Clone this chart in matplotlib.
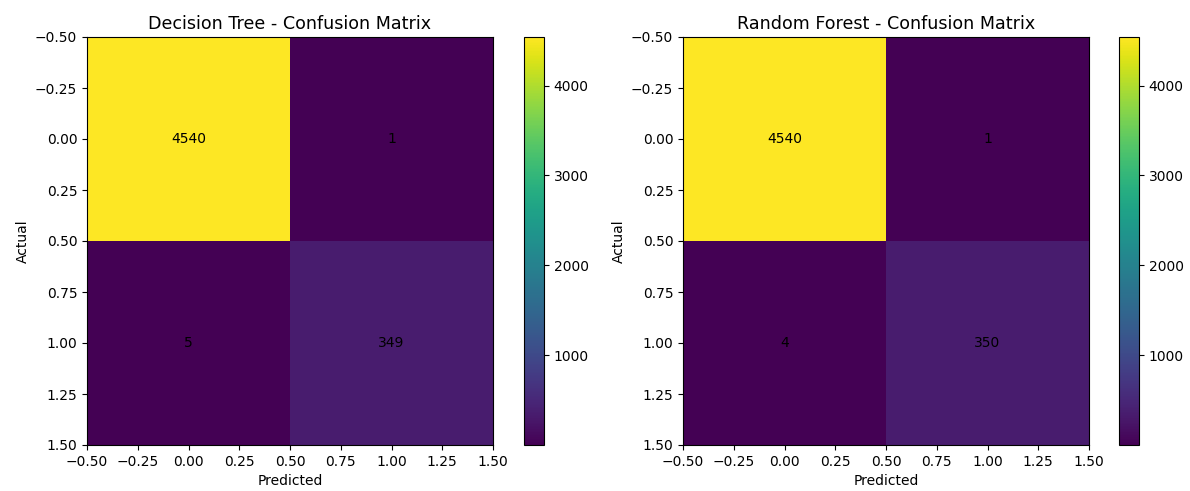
import numpy as np
import matplotlib.pyplot as plt

titles = ["Decision Tree - Confusion Matrix", "Random Forest - Confusion Matrix"]
cm_tree = np.array([[4540, 1], [5, 349]])
cm_forest = np.array([[4540, 1], [4, 350]])
matrices = [cm_tree, cm_forest]

fig = plt.figure(figsize=(11.9, 4.91), dpi=100)

W, H = 1190.0, 491.0
ax_x = [87, 683]
cb_x = [524, 1119]
top, bottom = 37, 445

for k, (cm, title) in enumerate(zip(matrices, titles)):
    ax = fig.add_axes([ax_x[k] / W, (H - bottom) / H, 406 / W, (bottom - top) / H])
    cax = fig.add_axes([cb_x[k] / W, (H - bottom) / H, 20 / W, (bottom - top) / H])
    im = ax.imshow(cm, cmap="viridis", aspect="auto")
    for i in range(cm.shape[0]):
        for j in range(cm.shape[1]):
            ax.text(j, i, str(cm[i, j]), ha="center", va="center", color="black")
    ax.set_title(title, fontsize=12.6)
    ax.set_xlabel("Predicted")
    ax.set_ylabel("Actual")
    ax.set_xticks(np.arange(-0.5, 1.51, 0.25))
    ax.set_yticks(np.arange(-0.5, 1.51, 0.25))
    fig.colorbar(im, cax=cax)

plt.savefig("out.png")
plt.close()
